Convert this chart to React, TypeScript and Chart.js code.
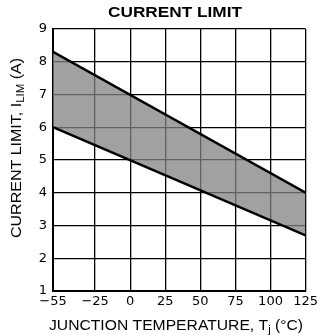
import React, { useEffect, useRef } from 'react';
import { Chart, registerables } from 'chart.js';

Chart.register(...registerables);

const temperatures = [-55, 125];
const upperLimit = [8.3, 4.0];
const lowerLimit = [6.0, 2.7];
const xTickValues = [-55, -25, 0, 25, 50, 75, 100, 125];
const xTickLabels = ['−55', '−25', '0', '25', '50', '75', '100', '125'];
const yTickValues = [1, 2, 3, 4, 5, 6, 7, 8, 9];
const yTickLabels = ['1', '2', '3', '4', '5', '6', '7', '8', '9'];
const titleText = 'CURRENT LIMIT';
const xTitleParts = [
  { text: 'JUNCTION TEMPERATURE, T', sub: false },
  { text: 'j', sub: true },
  { text: ' (°C)', sub: false },
];
const yTitleParts = [
  { text: 'CURRENT LIMIT, I', sub: false },
  { text: 'LIM', sub: true },
  { text: ' (A)', sub: false },
];

type Part = { text: string; sub: boolean };

function drawParts(
  ctx: CanvasRenderingContext2D,
  parts: Part[],
  cx: number,
  cy: number,
  targetW: number,
  mainFont: string,
  subFont: string,
  rotate: boolean
) {
  ctx.save();
  const widths = parts.map((p) => {
    ctx.font = p.sub ? subFont : mainFont;
    return ctx.measureText(p.text).width;
  });
  const total = widths.reduce((a, b) => a + b, 0);
  const sx = targetW / total;
  ctx.translate(cx, cy);
  if (rotate) ctx.rotate(-Math.PI / 2);
  ctx.scale(sx, 1);
  ctx.fillStyle = '#000';
  ctx.textBaseline = 'middle';
  ctx.textAlign = 'left';
  let x = -total / 2;
  parts.forEach((p, i) => {
    ctx.font = p.sub ? subFont : mainFont;
    ctx.fillText(p.text, x, p.sub ? 4 : 0);
    x += widths[i];
  });
  ctx.restore();
}

const textPlugin = {
  id: 'customTexts',
  afterDraw(chart: any) {
    const ctx = chart.ctx as CanvasRenderingContext2D;
    drawParts(ctx, [{ text: titleText, sub: false }], 175, 13, 134,
      'bold 14px "Liberation Sans", Arial, sans-serif', 'bold 10px "Liberation Sans"', false);
    drawParts(ctx, xTitleParts, 176, 326, 254,
      '14px "Liberation Sans", Arial, sans-serif', '10px "Liberation Sans", Arial, sans-serif', false);
    drawParts(ctx, yTitleParts, 17, 148, 180,
      '14px "Liberation Sans", Arial, sans-serif', '10px "Liberation Sans", Arial, sans-serif', true);
  },
};

export default function App() {
  const canvasRef = useRef<HTMLCanvasElement | null>(null);

  useEffect(() => {
    if (!canvasRef.current) return;
    const chart = new Chart(canvasRef.current, {
      type: 'line',
      data: {
        datasets: [
          {
            label: 'Min',
            data: temperatures.map((t, i) => ({ x: t, y: lowerLimit[i] })),
            borderColor: '#000',
            borderWidth: 2.5,
            pointRadius: 0,
            fill: false,
          },
          {
            label: 'Max',
            data: temperatures.map((t, i) => ({ x: t, y: upperLimit[i] })),
            borderColor: '#000',
            borderWidth: 2.5,
            pointRadius: 0,
            fill: '-1',
            backgroundColor: 'rgba(130,130,130,0.75)',
          },
        ],
      },
      options: {
        animation: false,
        responsive: true,
        maintainAspectRatio: false,
        layout: { padding: { top: 29, right: 9, left: 0, bottom: 0 } },
        plugins: {
          legend: { display: false },
          title: { display: false },
          tooltip: { enabled: false },
        },
        scales: {
          x: {
            type: 'linear',
            min: -55,
            max: 125,
            afterBuildTicks: (scale: any) => {
              scale.ticks = xTickValues.map((v) => ({ value: v }));
            },
            afterFit: (scale: any) => {
              scale.height = 44;
            },
            ticks: {
              autoSkip: false,
              maxRotation: 0,
              padding: 3,
              color: '#000',
              font: { family: '"DejaVu Sans"', size: 13 },
              callback: (v: any) => xTickLabels[xTickValues.indexOf(Number(v))],
            },
            grid: { color: '#000', lineWidth: 1.3, drawTicks: false },
            border: { display: true, color: '#000', width: 2 },
          },
          y: {
            type: 'linear',
            min: 1,
            max: 9,
            afterBuildTicks: (scale: any) => {
              scale.ticks = yTickValues.map((v) => ({ value: v }));
            },
            afterFit: (scale: any) => {
              scale.width = 53;
            },
            ticks: {
              padding: 6,
              color: '#000',
              font: { family: '"DejaVu Sans"', size: 13 },
              callback: (v: any) => yTickLabels[yTickValues.indexOf(Number(v))],
            },
            grid: { color: '#000', lineWidth: 1.3, drawTicks: false },
            border: { display: true, color: '#000', width: 2 },
          },
        },
      },
      plugins: [textPlugin],
    } as any);
    return () => chart.destroy();
  }, []);

  return (
    <div style={{ position: 'absolute', left: 0, top: 0, width: 321, height: 335, background: '#fff' }}>
      <canvas ref={canvasRef} />
    </div>
  );
}
